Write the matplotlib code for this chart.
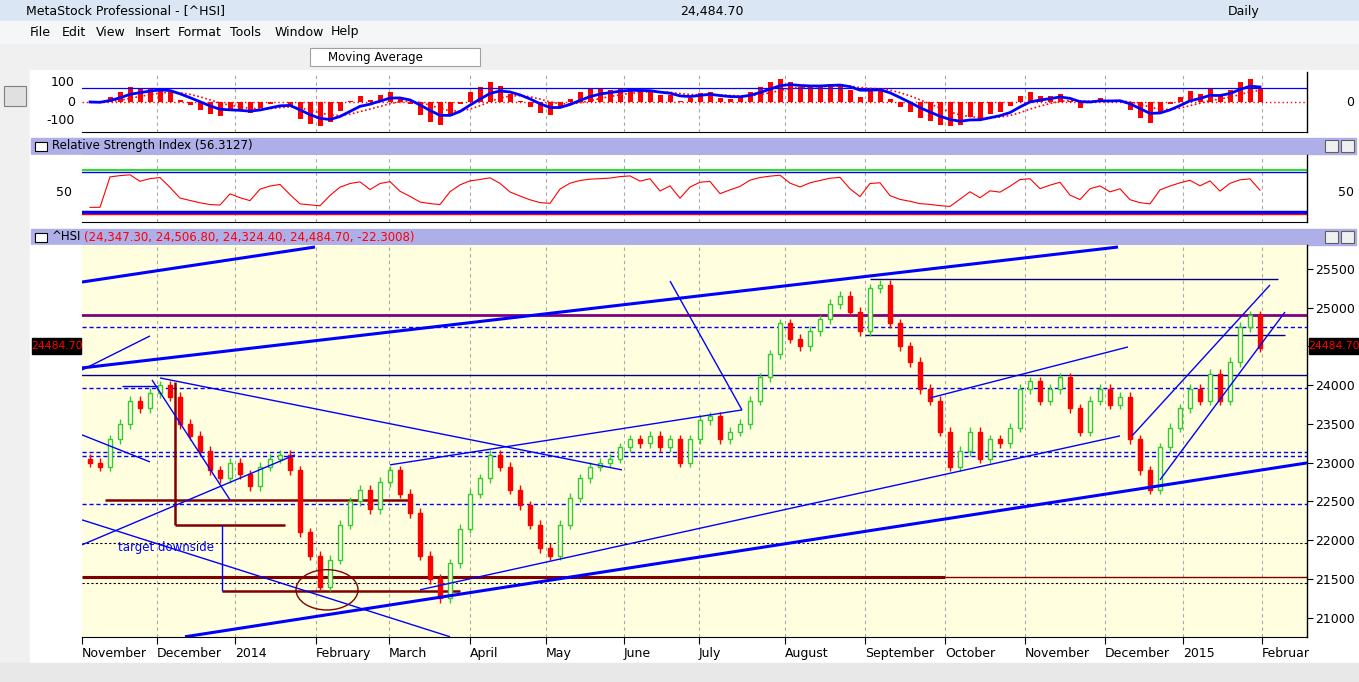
import numpy as np
import matplotlib
matplotlib.use("Agg")
import matplotlib.pyplot as plt
from matplotlib.patches import Rectangle, Ellipse

W, H = 1359, 682
closes = [23000,22950,23300,23500,23800,23700,23900,24000,23850,23500,23350,23150,22900,22800,23000,22850,22700,22950,23050,23100,
          22900,22100,21800,21400,21750,22200,22500,22650,22400,22750,22900,22600,22350,21800,21500,21250,21700,22150,22600,22800,
          23100,22950,22650,22450,22200,21900,21800,22200,22550,22800,22950,23000,23050,23200,23300,23250,23350,23200,23300,23000,
          23300,23550,23600,23300,23400,23500,23800,24100,24400,24800,24600,24500,24700,24850,25050,25150,24950,24700,25250,25300,
          24800,24500,24300,23950,23800,23400,22950,23150,23400,23050,23300,23250,23450,23950,24050,23800,23950,24100,23700,23400,
          23800,23950,23750,23850,23300,22900,22650,23200,23450,23700,23950,23800,24150,23800,24300,24750,24900,24485]
month_labels = ["November","December","2014","February","March","April","May","June","July","August",
                "September","October","November","December","2015","Februar"]
month_pos = [-0.8,6.7,14.5,22.6,29.9,38.0,45.6,53.4,60.9,69.5,77.5,85.5,93.5,101.5,109.3,117.2]
price_ticks = [25500,25000,24500,24000,23500,23000,22500,22000,21500,21000]
# trendlines: (i0, p0, i1, p1, width)
trend_lines = [(-0.8,25332,22.5,25784,2.2),(-0.8,24223,102.8,25784,2.2),(-0.8,24197,6,24636,1),
               (9.5,20753,121.7,22997,2.2),(-0.8,21940,20.5,23101,1),(30,22972,65.2,23681,1),
               (33,21359,103,23346,1),(84,23836,103.8,24494,1),(7,24094,53.2,22907,1),
               (6.2,24068,14,22520,1),(-0.8,22262,36,20753,1),(-0.8,23359,6,23010,1),
               (58,25345,65.2,23681,1),(104.2,23346,118,25294,1),(107,22778,119.5,24945,1)]
dashed_levels = [24752,23965,23139,23088,22468]
black_dashed = [21965,21449]
purple_level = 24907

c = np.array(closes, float)
n = len(c)
idx = np.arange(n)
opens = np.r_[c[0]+50, c[:-1]]

def ema(x, k):
    a = 2/(k+1); out = np.empty_like(x); out[0] = x[0]
    for j in range(1, len(x)): out[j] = a*x[j] + (1-a)*out[j-1]
    return out

hist = np.clip((c - ema(c, 10)) / 6.0, -130, 130)
hist = ema(hist, 2)
blue = ema(hist, 5)
sig = ema(blue, 5)
d = np.diff(c, prepend=c[0])
up = ema(np.maximum(d, 0), 5); dn = ema(np.maximum(-d, 0), 5) + 1e-9
rsi = 100 - 100/(1 + up/dn)
rsi = 52 + (rsi - 50)*0.5

fig = plt.figure(figsize=(W/100, H/100), dpi=100)
fig.patch.set_facecolor("#f0f0f0")
def ax_px(x0, y0, x1, y1, **kw):
    return fig.add_axes([x0/W, 1-y1/H, (x1-x0)/W, (y1-y0)/H], **kw)

bg = ax_px(0, 0, W, H); bg.set_xlim(0, W); bg.set_ylim(H, 0); bg.axis("off")
bg.add_patch(Rectangle((0,0), W, 21, color="#dbe6f4"))
bg.add_patch(Rectangle((0,21), W, 23, color="#f5f6f8"))
bg.add_patch(Rectangle((0,44), W, 26, color="#f0f0f0"))
bg.add_patch(Rectangle((30,70), 1329, 593, color="#ffffff"))
bg.add_patch(Rectangle((0,663), W, 19, color="#e8e8e8"))
bg.add_patch(Rectangle((4,86), 22, 20, facecolor="#e0e0e0", edgecolor="#808080", lw=0.8))
bg.text(26, 11, "MetaStock Professional - [^HSI]", fontsize=9, va="center")
bg.text(680, 11, "24,484.70", fontsize=9, va="center")
bg.text(1228, 11, "Daily", fontsize=9, va="center")
for t, x in zip(["File","Edit","View","Insert","Format","Tools","Window","Help"],[30,62,96,135,178,230,275,331]):
    bg.text(x, 32, t, fontsize=9, va="center")
bg.add_patch(Rectangle((310,48), 170, 18, facecolor="white", edgecolor="#a0a0a0", lw=0.8))
bg.text(328, 57, "Moving Average", fontsize=8.5, va="center")
for y0 in [138, 229]:
    bg.add_patch(Rectangle((31,y0), 1325, 16, color="#aeaee8"))
    bg.add_patch(Rectangle((35,y0+4), 12, 9, facecolor="white", edgecolor="black", lw=0.8))
    for xb in [1325, 1341]:
        bg.add_patch(Rectangle((xb,y0+2), 13, 12, facecolor="#f0f0f0", edgecolor="#606060", lw=0.8))
bg.text(52, 146, "Relative Strength Index (56.3127)", fontsize=8.5, va="center")
bg.text(52, 237, "^HSI", fontsize=8.5, va="center")
bg.text(84, 237, "(24,347.30, 24,506.80, 24,324.40, 24,484.70, -22.3008)", fontsize=8.5, va="center", color="red")
for y0, y1 in [(72,132),(155,222),(245,637)]:
    bg.add_patch(Rectangle((30,y0), 52, y1-y0, color="white"))
for t, y in [("100",83),("0",102),("-100",120)]:
    bg.text(75, y, t, fontsize=9, ha="right", va="center")
bg.text(1350, 102, "0", fontsize=9, ha="center", va="center")
bg.text(72, 193, "50", fontsize=9, ha="right", va="center")
bg.text(1346, 193, "50", fontsize=9, ha="center", va="center")

def grid(ax):
    for m in month_pos[1:]:
        ax.axvline(m, color="#a8a8a8", ls=(0,(3,3)), lw=0.8, zorder=0)

xl = (-0.8, 121.7)
a1 = ax_px(82, 72, 1307, 132)
a1.set_xlim(xl); a1.set_ylim(-158, 158)
grid(a1)
a1.bar(idx, hist, width=0.5, color="red", zorder=2)
a1.axhline(0, color="red", lw=1, ls=(0,(1,2)))
a1.axhline(75, color="blue", lw=0.9)
a1.plot(idx, sig, color="red", ls=(0,(1,1.5)), lw=1.2, zorder=3)
a1.plot(idx, blue, color="blue", lw=2, zorder=4)

a2 = ax_px(82, 155, 1307, 222)
a2.set_xlim(xl); a2.set_ylim(5, 105.5)
grid(a2)
a2.axhline(82.5, color="#00dd00", lw=1.2)
a2.axhline(80, color="blue", lw=1)
a2.axhline(20, color="blue", lw=2.5)
a2.axhline(17.5, color="red", lw=1)
a2.plot(idx, rsi, color="red", lw=0.8)

a3 = ax_px(82, 245, 1307, 637)
a3.set_xlim(xl); a3.set_ylim(20750, 25810)
a3.set_facecolor("#ffffe0")
grid(a3)
for i in range(n):
    o, cl = opens[i], c[i]
    lo, hi = min(o, cl), max(o, cl)
    col = "#33cc33" if cl >= o else "red"
    a3.vlines(i, lo-60, hi+60, color=col, lw=1, zorder=3)
    if cl >= o:
        a3.add_patch(Rectangle((i-0.22, lo), 0.44, max(hi-lo, 10), facecolor="#ffffe0", edgecolor=col, lw=1, zorder=4))
    else:
        a3.add_patch(Rectangle((i-0.22, lo), 0.44, max(hi-lo, 10), facecolor=col, edgecolor=col, lw=1, zorder=4))
for i0, p0, i1, p1, w in trend_lines:
    a3.plot([i0, i1], [p0, p1], color="blue", lw=w, zorder=5, solid_capstyle="butt")
for p in dashed_levels:
    a3.axhline(p, color="blue", lw=1, ls=(0,(3,2)), zorder=2)
for p in black_dashed:
    a3.axhline(p, color="black", lw=0.8, ls=(0,(2,2)), zorder=2)
a3.axhline(purple_level, color="#800080", lw=2, zorder=2)
a3.axhline(24133, color="#000080", lw=1, zorder=2)
a3.hlines(24649, 77.5, 119.5, color="#000080", lw=1, zorder=2)
a3.hlines(25371, 78, 118.8, color="#000080", lw=1, zorder=2)
a3.hlines(23991, 3.2, 7, color="blue", lw=1, zorder=2)
dr = "#800000"
a3.hlines(21527, -0.8, 85.5, color=dr, lw=2.2, zorder=2)
a3.hlines(21527, 85.5, 121.7, color=dr, lw=1, zorder=2)
a3.hlines(22520, 1.5, 32, color=dr, lw=1.8, zorder=2)
a3.hlines(22198, 8.5, 19.5, color=dr, lw=1.8, zorder=2)
a3.vlines(8.5, 22198, 24042, color=dr, lw=1.8, zorder=2)
a3.hlines(21346, 13.2, 37, color=dr, lw=1.8, zorder=2)
a3.vlines(13.2, 21346, 22198, color="blue", lw=1, zorder=2)
a3.add_patch(Ellipse((23.7, 21359), 6.2, 520, fill=False, edgecolor=dr, lw=1, zorder=6))
a3.text(2.8, 21900, "target downside", color="blue", fontsize=8.5, va="center")
a3.yaxis.tick_right()
a3.set_yticks(price_ticks)
a3.set_yticklabels(["" if p == 24500 else str(p) for p in price_ticks], fontsize=9)
a3.tick_params(axis="y", length=4, pad=2)
a3.set_xticks(month_pos)
a3.set_xticklabels(month_labels, fontsize=9, ha="left")
a3.tick_params(axis="x", length=5, pad=2, direction="out")

for a in (a1, a2):
    a.set_xticks([]); a.set_yticks([])
for a in (a1, a2, a3):
    for s in ["top", "left"]:
        a.spines[s].set_visible(False)
    a.spines["right"].set_linewidth(1)

ov = ax_px(0, 0, W, H); ov.set_xlim(0, W); ov.set_ylim(H, 0); ov.axis("off")
ov.add_patch(Rectangle((32,338), 49, 16, color="black"))
ov.text(56.5, 346, "24484.70", color="red", fontsize=7.8, ha="center", va="center")
ov.add_patch(Rectangle((1309,338), 50, 16, color="black"))
ov.text(1334, 346, "24484.70", color="red", fontsize=7.8, ha="center", va="center")
fig.savefig("out.png", dpi=100)
